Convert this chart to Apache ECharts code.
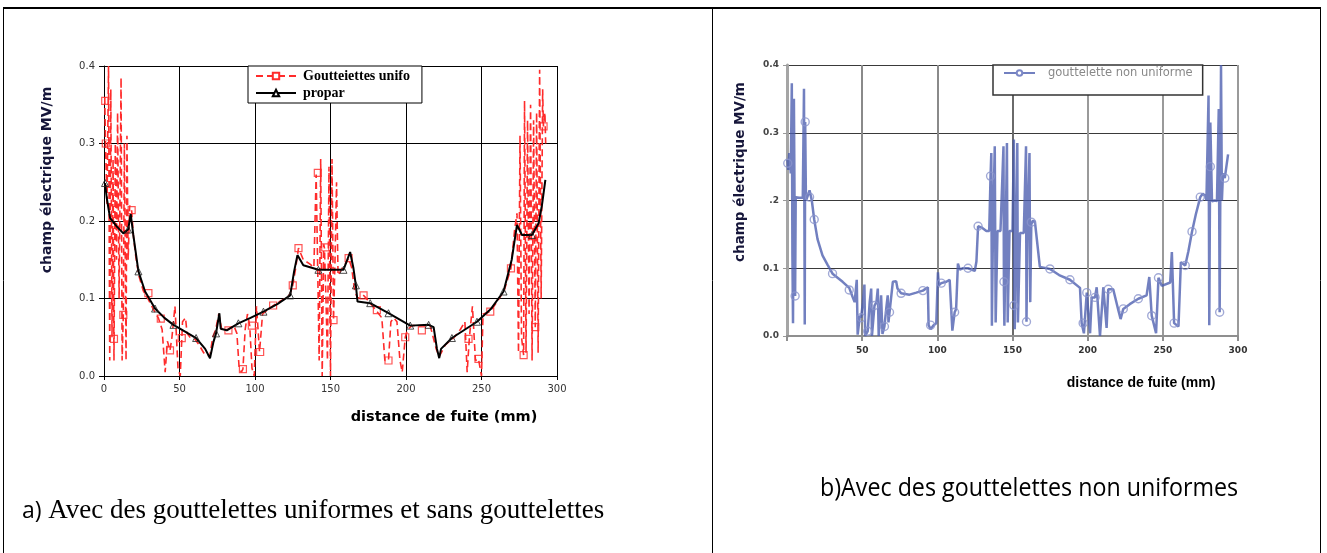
<!DOCTYPE html>
<html><head><meta charset="utf-8">
<script src="https://cdn.jsdelivr.net/npm/echarts@6/dist/echarts.min.js"></script>
<style>html,body{margin:0;padding:0;background:#fff}#c{width:1327px;height:553px}</style>
</head><body><div id="c"></div>
<script>
'use strict';

/* ---------- data (x = mm, y = MV/m) ---------- */
const xTicksLeft = ['0','50','100','150','200','250','300'];
const yTicksLeft = ['0.0','0.1','0.2','0.3','0.4'];
const xTicksRight = ['','50','100','150','200','250','300'];
const yTicksRight = ['0.0','0.1','.2','0.3','0.4'];

// a) red dashed: uniform droplets
const uniforme = [
  [0.5,0.36],[1,0.30],[2,0.22],[3,0.40],[3.8,0.02],[4.5,0.37],[5.3,0.05],[6,0.28],[6.6,0.02],[7.5,0.30],
  [8.3,0.15],[9,0.34],[10,0.10],[11.3,0.385],[12,0.02],[12.8,0.08],[13.5,0.30],[14.6,0.02],[15.2,0.31],
  [16,0.15],[17,0.22],[18.3,0.214],[19.5,0.18],[21,0.155],[23,0.13],[26,0.11],[29,0.10],[33,0.085],
  [36,0.075],[38.5,0.06],[40.5,0.005],[42,0.045],[43.7,0.033],[45,0.05],[47,0.09],[49,0.01],[50.5,0.0],
  [52,0.07],[54,0.075],[55,0.055],[57,0.05],[60,0.048],[63,0.04],[66,0.03],[70,0.025],[72,0.05],[74,0.06],
  [76,0.08],[78,0.06],[82,0.06],[86,0.065],[88,0.055],[89.5,0.01],[91,0.005],[92,0.009],[93.5,0.06],
  [95,0.08],[96.5,0.065],[98,0.01],[99.5,0.0],[101,0.09],[103,0.031],[105,0.08],[110,0.088],[115,0.095],
  [120,0.10],[123,0.105],[125,0.117],[127,0.14],[128.8,0.165],[132,0.15],[136,0.145],[139,0.14],
  [140.5,0.26],[141.6,0.262],[142.5,0.02],[143.5,0.28],[144.5,0.0],[145.5,0.17],[146,0.165],[147,0.10],
  [148,0.02],[149,0.27],[150,0.0],[151,0.28],[152,0.072],[153,0.15],[154,0.25],[155,0.13],[158,0.14],
  [160,0.145],[162,0.152],[164,0.14],[166,0.11],[168,0.10],[172,0.104],[176,0.095],[180,0.085],
  [184,0.075],[186,0.02],[188.4,0.02],[190,0.07],[192,0.075],[194,0.07],[196,0.02],[197.5,0.005],
  [199.5,0.05],[201,0.06],[204,0.065],[210,0.065],[216,0.065],[220,0.035],[222,0.025],[226,0.04],
  [232,0.05],[236,0.06],[239,0.07],[240.5,0.005],[242,0.05],[244,0.09],[246,0.02],[248,0.022],[250,0.0],
  [251,0.08],[255.8,0.083],[260,0.095],[265,0.11],[269.5,0.139],[272,0.19],[273.5,0.21],[274.5,0.03],
  [275.5,0.31],[276.5,0.05],[277.9,0.027],[278.5,0.355],[279.5,0.03],[280.5,0.33],[281.5,0.08],
  [282.5,0.35],[283.5,0.02],[284.5,0.33],[285.6,0.063],[286.5,0.34],[287.5,0.03],[288.5,0.395],
  [289.5,0.10],[290.5,0.37],[291,0.322],[292,0.34],[292.5,0.30]
];
const uniformeMarks = [
  [0.8,0.355],[1.2,0.30],[6.6,0.048],[12.8,0.079],[18.3,0.214],[29.4,0.107],[37.6,0.074],[43.7,0.033],
  [51.5,0.049],[82.4,0.059],[92,0.009],[97.9,0.065],[103.4,0.031],[112,0.091],[125,0.117],[128.8,0.165],
  [141.6,0.262],[146.5,0.166],[152,0.072],[162,0.152],[171.9,0.104],[180.7,0.085],[188.4,0.02],
  [199.5,0.05],[210.5,0.059],[241.4,0.048],[248,0.022],[255.8,0.083],[269.5,0.139],[277.9,0.027],
  [285.6,0.063],[291.1,0.322]
];

// a) black: propar (no droplets)
const propar = [
  [0.7,0.249],[1.8,0.23],[4,0.204],[8.4,0.193],[12.8,0.184],[16,0.189],[17.7,0.209],[19.4,0.182],
  [22.8,0.135],[27.2,0.109],[33.8,0.087],[40,0.075],[46,0.066],[54,0.057],[61,0.049],[67,0.035],
  [70.2,0.023],[72.5,0.044],[74.2,0.055],[76.4,0.081],[77.3,0.061],[81.3,0.059],[89,0.068],[97,0.075],
  [105.6,0.083],[115,0.093],[123.3,0.104],[125.9,0.135],[128.1,0.156],[132,0.143],[142,0.137],
  [158.6,0.137],[163,0.160],[165.2,0.139],[166.8,0.117],[167.9,0.096],[176.3,0.094],[188.4,0.081],
  [202.8,0.065],[215,0.066],[218.3,0.063],[220.5,0.035],[222,0.023],[223.2,0.035],[230.4,0.049],
  [247,0.070],[256,0.086],[264.6,0.109],[270,0.15],[273.5,0.195],[276.8,0.182],[283.4,0.182],
  [287.8,0.197],[290,0.22],[292.3,0.253]
];
const proparMarks = [
  [0.7,0.249],[16,0.189],[22.8,0.135],[33.8,0.087],[46,0.066],[61,0.049],[74.2,0.055],[89,0.068],
  [105.6,0.083],[123.3,0.104],[142,0.137],[158.6,0.137],[166.8,0.117],[176.3,0.094],[188.4,0.081],
  [202.8,0.065],[215,0.066],[230.4,0.049],[247,0.070],[264.6,0.109],[283.4,0.182]
];

// b) blue: non-uniform droplets
const nonUniforme = [
  [0.3,0.26],[0.8,0.245],[1.5,0.27],[2.5,0.24],[3.2,0.373],[3.6,0.12],[4.0,0.019],[4.6,0.35],[5.4,0.059],
  [5.8,0.205],[8,0.204],[10.5,0.204],[11.3,0.365],[11.8,0.017],[12.1,0.316],[12.6,0.2],[13.5,0.205],
  [15,0.215],[16.5,0.2],[18.1,0.172],[20.3,0.143],[23.6,0.119],[27,0.105],[30.3,0.092],[37,0.08],
  [41.4,0.071],[43.6,0.058],[45,0.05],[46.4,0.083],[47,0.002],[48.5,0.03],[49.3,0.027],[50.5,0.05],
  [51.5,0.076],[52,0.0],[53.7,0.007],[55,0.05],[56,0.07],[56.5,0.0],[58.2,0.045],[59.5,0.05],[60.4,0.07],
  [61,0.0],[62.6,0.06],[63.5,0.003],[64.8,0.014],[66,0.04],[67,0.06],[67.5,0.02],[68.2,0.035],[70.4,0.08],
  [72.6,0.081],[73.5,0.07],[75.9,0.063],[81.5,0.061],[86,0.064],[90.4,0.067],[93.7,0.072],[94.2,0.016],
  [95.5,0.01],[97.5,0.016],[99.3,0.019],[100.4,0.094],[101,0.075],[102.6,0.078],[106,0.08],[108.2,0.083],
  [110,0.008],[111.5,0.035],[112.5,0.04],[113.7,0.107],[114.9,0.098],[117,0.1],[120.4,0.1],[124.9,0.096],
  [126,0.11],[127.1,0.162],[129.5,0.16],[132.6,0.155],[134.5,0.155],[135.4,0.236],[135.9,0.27],
  [136.3,0.015],[137,0.155],[138.2,0.28],[138.8,0.02],[140,0.155],[142,0.155],[144,0.28],[144.3,0.065],
  [144.6,0.015],[145.5,0.155],[146.3,0.285],[146.8,0.02],[148,0.155],[150,0.155],[150.9,0.29],
  [151.2,0.031],[151.5,0.01],[152.3,0.155],[153.2,0.285],[153.6,0.02],[155,0.152],[157.5,0.152],
  [159,0.28],[159.3,0.021],[160,0.16],[161.3,0.27],[161.8,0.05],[162.5,0.165],[163.5,0.17],[164.9,0.169],
  [168.2,0.102],[174.9,0.099],[181,0.09],[188.2,0.083],[194.9,0.071],[196,0.019],[197.5,0.004],
  [199.4,0.064],[201.6,0.004],[202.7,0.057],[204.9,0.057],[206,0.072],[208.2,0.0],[210.4,0.072],
  [212.6,0.012],[213.7,0.069],[217,0.069],[220.4,0.038],[221.9,0.025],[223.7,0.04],[228,0.047],
  [233.7,0.055],[239.2,0.06],[241,0.087],[242.6,0.03],[245.5,0.004],[247.1,0.086],[249.3,0.074],
  [254.9,0.079],[256,0.124],[257.5,0.019],[260.4,0.014],[262,0.109],[264.9,0.104],[267,0.125],
  [269.4,0.154],[272,0.18],[274.9,0.205],[276.5,0.21],[278.2,0.207],[279,0.2],[280.4,0.355],
  [280.9,0.016],[281.6,0.315],[282.7,0.199],[284.5,0.2],[286,0.199],[287.2,0.335],[287.8,0.035],
  [288.7,0.4],[289.3,0.2],[290,0.24],[291.2,0.233],[292.5,0.235],[293.4,0.268]
];
const nonUniformeMarks = [
  [0.5,0.255],[5.4,0.059],[12.1,0.316],[15,0.205],[18.1,0.172],[30.3,0.092],[41.4,0.068],[49.3,0.027],
  [53.7,0.007],[58.2,0.045],[64.8,0.014],[68.2,0.035],[75.9,0.063],[90.4,0.067],[95.5,0.016],
  [102.6,0.078],[111.5,0.035],[120.4,0.1],[127.1,0.162],[135.4,0.236],[144.3,0.08],[150.9,0.045],
  [159.3,0.021],[162.5,0.168],[174.9,0.099],[188.2,0.083],[197,0.019],[199.4,0.064],[204.9,0.057],
  [213.7,0.069],[223.7,0.04],[233.7,0.055],[242.6,0.03],[247.1,0.086],[257.5,0.019],[264.9,0.104],
  [269.4,0.154],[274.9,0.205],[281.6,0.25],[287.8,0.035],[291.2,0.233]
];

/* ---------- styling ---------- */
const SANS = '"DejaVu Sans",Verdana,sans-serif';
const SERIF = '"Liberation Serif","Times New Roman",serif';
const TITLE_INK = '#16163a';
const tickIdx = (v, step) => Math.round(v / step);

const chart = echarts.init(document.getElementById('c'), null, {renderer: 'canvas'});

const leftX = {
  gridIndex: 0, type: 'value', min: 0, max: 300, interval: 50,
  axisLine: {lineStyle: {color: '#000', width: 1}},
  axisTick: {show: true, length: 4, lineStyle: {color: '#000'}},
  axisLabel: {color: '#333', fontFamily: SANS, fontSize: 10, margin: 8,
    formatter: v => xTicksLeft[tickIdx(v, 50)]},
  splitLine: {show: true, lineStyle: {color: '#000', width: 1}},
};
const leftY = {
  gridIndex: 0, type: 'value', min: 0, max: 0.4, interval: 0.1,
  axisLine: {show: true, lineStyle: {color: '#000', width: 1}},
  axisTick: {show: true, length: 5, lineStyle: {color: '#000'}},
  axisLabel: {color: '#333', fontFamily: SANS, fontSize: 10, margin: 9,
    formatter: v => yTicksLeft[tickIdx(v, 0.1)]},
  splitLine: {show: true, lineStyle: {color: '#000', width: 1}},
};
const rightX = {
  gridIndex: 1, type: 'value', min: 0, max: 300, interval: 50,
  axisLine: {lineStyle: {color: '#8f8f8f', width: 2}},
  axisTick: {show: true, length: 5, lineStyle: {color: '#8f8f8f', width: 2}},
  axisLabel: {color: '#333', fontFamily: SANS, fontSize: 9, fontWeight: 'bold', margin: 10,
    formatter: v => xTicksRight[tickIdx(v, 50)]},
  splitLine: {show: true, lineStyle: {color: ['#8a8a8a','#8a8a8a','#8a8a8a','#6a6a6a','#9a9a9a','#9a9a9a','#9a9a9a'], width: 2}},
};
const rightY = {
  gridIndex: 1, type: 'value', min: 0, max: 0.4, interval: 0.1,
  axisLine: {show: true, lineStyle: {color: '#a5a5a5', width: 3}},
  axisTick: {show: true, length: 4, lineStyle: {color: '#999'}},
  axisLabel: {color: '#444', fontFamily: SANS, fontSize: 9, fontWeight: 'bold', margin: 8,
    formatter: v => yTicksRight[tickIdx(v, 0.1)]},
  splitLine: {show: true, lineStyle: {color: '#3a3a3a', width: 1}},
};

const border = (x1, y1, x2, y2, w) => ({type: 'line', silent: true,
  shape: {x1, y1, x2, y2}, style: {stroke: '#000', lineWidth: w || 1}});
const label = (text, x, y, font, extra, el) => Object.assign({type: 'text', silent: true, x, y,
  style: Object.assign({text, font, fill: '#000', align: 'center', verticalAlign: 'middle'}, extra || {})}, el || {});

chart.setOption({
  animation: false,
  backgroundColor: '#fff',
  grid: [
    {left: 104, top: 66, width: 453, height: 310},
    {left: 787, top: 65, width: 451, height: 271},
  ],
  xAxis: [leftX, rightX],
  yAxis: [leftY, rightY],
  legend: [
    {
      data: ['Goutteiettes unifo', 'propar'], orient: 'vertical', left: 248, top: 66,
      backgroundColor: '#fff', borderColor: '#000', borderWidth: 1, borderRadius: 0,
      padding: [3, 12, 3, 7], itemGap: 3, itemWidth: 40, itemHeight: 8,
      textStyle: {fontFamily: SERIF, fontWeight: 'bold', fontSize: 14, color: '#000', padding: [0, 0, 0, 2]},
    },
    {
      data: ['gouttelette non uniforme'], orient: 'vertical', left: 993, top: 65,
      backgroundColor: '#fff', borderColor: '#333', borderWidth: 1.5, borderRadius: 0,
      padding: [2, 10, 16, 10], itemWidth: 31, itemHeight: 7,
      textStyle: {fontFamily: SANS, fontSize: 11.5, color: '#888', padding: [0, 0, 0, 8]},
    },
  ],
  series: [
    {name: 'Goutteiettes unifo', type: 'line', xAxisIndex: 0, yAxisIndex: 0, data: uniforme,
      symbol: 'rect', symbolSize: 7, showSymbol: false, z: 2,
      lineStyle: {color: '#ff2b2b', width: 1.6, type: [7, 4]},
      itemStyle: {color: '#fff', borderColor: '#ff2b2b', borderWidth: 1.2}},
    {name: 'Goutteiettes unifo', type: 'scatter', xAxisIndex: 0, yAxisIndex: 0, data: uniformeMarks,
      symbol: 'rect', symbolSize: 7, z: 3,
      itemStyle: {color: 'rgba(255,255,255,0)', borderColor: '#ff2b2b', borderWidth: 1.2}},
    {name: 'propar', type: 'line', xAxisIndex: 0, yAxisIndex: 0, data: propar,
      symbol: 'triangle', symbolSize: 8, showSymbol: false, z: 4,
      lineStyle: {color: '#000', width: 2},
      itemStyle: {color: '#fff', borderColor: '#000', borderWidth: 1}},
    {name: 'propar', type: 'scatter', xAxisIndex: 0, yAxisIndex: 0, data: proparMarks,
      symbol: 'triangle', symbolSize: 7, z: 5,
      itemStyle: {color: 'rgba(255,255,255,0)', borderColor: '#222', borderWidth: 1}},
    {name: 'gouttelette non uniforme', type: 'line', xAxisIndex: 1, yAxisIndex: 1, data: nonUniforme,
      symbol: 'circle', symbolSize: 7, showSymbol: false, z: 2,
      lineStyle: {color: '#4a5cae', width: 2.5, opacity: 0.78},
      itemStyle: {color: '#fff', borderColor: '#7d88c6', borderWidth: 1.2}},
    {name: 'gouttelette non uniforme', type: 'scatter', xAxisIndex: 1, yAxisIndex: 1, data: nonUniformeMarks,
      symbol: 'circle', symbolSize: 8, z: 3,
      itemStyle: {color: 'rgba(255,255,255,0)', borderColor: '#8a93cc', borderWidth: 1.4}},
  ],
  graphic: [
    // table frame
    border(3, 8, 1321, 8, 2),
    border(3.5, 8, 3.5, 553),
    border(712.5, 8, 712.5, 553),
    border(1320.5, 8, 1320.5, 553),
    // axis titles
    label('champ électrique MV/m', 47, 180, 'bold 14px ' + SANS, {fill: TITLE_INK}, {rotation: Math.PI / 2}),
    label('distance de fuite (mm)', 444, 417, 'bold 14.5px ' + SANS),
    label('champ électrique MV/m', 740, 172, 'bold 13.5px ' + SANS, {fill: TITLE_INK}, {rotation: Math.PI / 2}),
    label('distance de fuite (mm)', 1141, 383, 'bold 14px "Liberation Sans",Arial,sans-serif'),
    // captions
    label('{s|a)} Avec des gouttelettes uniformes et sans gouttelettes', 22, 511, '27px ' + SERIF,
      {align: 'left', rich: {s: {fontFamily: '"Open Sans",sans-serif', fontSize: 23}}}),
    label('b)Avec des gouttelettes non uniformes', 820, 489, '25px "Open Sans",sans-serif',
      {align: 'left'}, {scaleX: 0.93}),
  ],
});
</script></body></html>
